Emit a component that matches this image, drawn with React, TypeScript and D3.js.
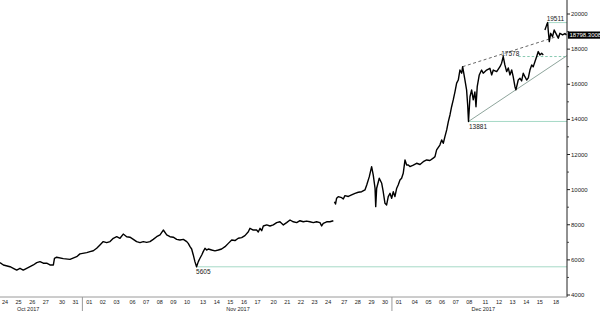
import React from "react";
import * as d3 from "d3";

const W = 600;
const H = 311;
const AXIS_X = 567;
const AXIS_Y = 297;
const FONT = "'Liberation Sans', Arial, sans-serif";

// trading-day axis: each weekday = 1 slot, a weekend = 0.18 slot, origin = 24 Oct 2017 00:00
const dayTicks = [
  "2017-10-24", "2017-10-25", "2017-10-26", "2017-10-27", "2017-10-30", "2017-10-31",
  "2017-11-01", "2017-11-02", "2017-11-03", "2017-11-06", "2017-11-07", "2017-11-08",
  "2017-11-09", "2017-11-10", "2017-11-13", "2017-11-14", "2017-11-15", "2017-11-16",
  "2017-11-17", "2017-11-20", "2017-11-21", "2017-11-22", "2017-11-23", "2017-11-24",
  "2017-11-27", "2017-11-28", "2017-11-29", "2017-11-30", "2017-12-01", "2017-12-04",
  "2017-12-05", "2017-12-06", "2017-12-07", "2017-12-08", "2017-12-11", "2017-12-12",
  "2017-12-13", "2017-12-14", "2017-12-15", "2017-12-18",
];
const monthBreaks = ["2017-11-01", "2017-12-01"];
const monthLabels: [string, number][] = [
  ["Oct 2017", 2.2],
  ["Nov 2017", 17.6],
  ["Dec 2017", 35.6],
];
const yMajor = [4000, 6000, 8000, 10000, 12000, 14000, 16000, 18000, 20000];
const yMinor = [5000, 7000, 9000, 11000, 13000, 15000, 17000, 19000];

// [slot, price]
const octNovSeries: [number, number][] = [
  [0.13, 5840], [0.38, 5710], [0.87, 5610], [1.11, 5520], [1.36, 5420], [1.6, 5520],
  [1.84, 5420], [2.09, 5520], [2.58, 5710], [2.83, 5840], [3.07, 5900], [3.31, 5810],
  [3.56, 5810], [3.8, 5710], [4.05, 5710], [4.13, 6090], [4.29, 6150], [4.78, 6070],
  [5.27, 6030], [5.76, 6180], [6.0, 6340], [6.5, 6410], [6.74, 6470], [6.98, 6520],
  [7.23, 6660], [7.47, 6850], [7.71, 7040], [7.96, 6980], [8.21, 7040], [8.45, 7230],
  [8.7, 7320], [8.94, 7230], [9.18, 7470], [9.43, 7320], [9.67, 7290], [9.92, 7170],
  [10.16, 7040], [10.41, 6980], [10.65, 7040], [10.9, 7000], [11.14, 7040], [11.38, 7170],
  [11.63, 7320], [11.88, 7420], [12.12, 7700], [12.37, 7420], [12.61, 7320], [12.85, 7290],
  [13.1, 7170], [13.34, 7130], [13.59, 7170], [13.84, 7040], [13.95, 6940], [14.08, 6750],
  [14.2, 6620], [14.32, 6280], [14.44, 5900], [14.56, 5605], [14.69, 5900], [14.81, 6090],
  [14.94, 6280], [15.05, 6470], [15.18, 6660], [15.3, 6560], [15.42, 6620], [15.67, 6560],
  [15.91, 6510], [16.16, 6560], [16.4, 6620], [16.65, 6750], [16.89, 6940], [17.14, 7130],
  [17.38, 7100], [17.62, 7230], [17.87, 7270], [18.11, 7380], [18.36, 7600], [18.48, 7800],
  [18.72, 7700], [18.97, 7700], [19.09, 7590], [19.22, 7800], [19.34, 7660], [19.46, 7930],
  [19.71, 7990], [19.95, 7930], [20.19, 7990], [20.44, 8120], [20.68, 8170], [20.93, 7990],
  [21.17, 8120], [21.42, 8270], [21.66, 8170], [21.91, 8120], [22.15, 8230], [22.39, 8170],
  [22.64, 8210], [22.88, 8170], [23.13, 8120], [23.37, 8170], [23.62, 8120], [23.74, 7930],
  [23.86, 8080], [24.11, 8170], [24.35, 8170], [24.6, 8230],
];
const novDecSeries: [number, number][] = [
  [24.68, 9310], [24.76, 9180], [24.84, 9510], [24.96, 9600], [25.21, 9540], [25.33, 9470],
  [25.45, 9660], [25.7, 9610], [25.94, 9700], [26.19, 9790], [26.43, 9850], [26.68, 9880],
  [26.92, 9980], [27.05, 10260], [27.24, 10740], [27.41, 11310], [27.53, 10830], [27.66, 10080],
  [27.71, 9030], [27.78, 10080], [27.97, 10650], [28.15, 10360], [28.26, 9880], [28.39, 9220],
  [28.51, 9130], [28.63, 9600], [28.76, 9790], [28.88, 9510], [29.0, 9880], [29.12, 9600],
  [29.25, 10080], [29.36, 10260], [29.49, 10550], [29.61, 10650], [29.73, 10930], [29.86, 11690],
  [29.98, 11400], [30.1, 11400], [30.22, 11310], [30.47, 11400], [30.71, 11500], [30.96, 11430],
  [31.2, 11590], [31.45, 11690], [31.69, 11660], [31.93, 11790], [32.06, 11880], [32.18, 12260],
  [32.42, 12540], [32.55, 12830], [32.67, 12640], [32.79, 13020], [32.92, 13400], [33.04, 13870],
  [33.16, 14250], [33.28, 14720], [33.4, 15110], [33.53, 15580], [33.65, 16060], [33.77, 16240],
  [33.89, 16810], [34.02, 16630], [34.09, 17000], [34.26, 16240], [34.38, 15680], [34.46, 14820],
  [34.52, 13881], [34.63, 15290], [34.75, 15680], [34.87, 15110], [34.99, 15560], [35.07, 14720],
  [35.16, 15860], [35.31, 16530], [35.48, 16810], [35.6, 16630], [35.85, 16810], [36.09, 16910],
  [36.22, 16530], [36.34, 16810], [36.59, 16720], [36.83, 17000], [36.95, 17200], [37.07, 17578],
  [37.19, 17100], [37.32, 16720], [37.44, 16930], [37.56, 16530], [37.69, 16810], [37.8, 16430],
  [37.93, 15860], [38.0, 15680], [38.17, 16240], [38.3, 16340], [38.42, 16190], [38.54, 16630],
  [38.66, 16430], [38.79, 16240], [38.91, 16360], [39.03, 16810], [39.16, 17100], [39.27, 16990],
  [39.4, 17290], [39.52, 17570], [39.64, 17860], [39.76, 17670], [39.89, 17760], [40.01, 17670],
];
const dec18Series: [number, number][] = [
  [40.13, 19090], [40.26, 19380], [40.33, 19511], [40.37, 19090], [40.45, 18430], [40.55, 18900],
  [40.69, 18710], [40.81, 19090], [40.99, 18810], [41.11, 18620], [41.23, 18900], [41.43, 18810],
  [41.6, 18890], [41.71, 18798],
];

const lastPrice = "18798.3008";
const lastValue = 18798.3008;
const lowNov: [number, number] = [14.56, 5605];
const lowDec: [number, number] = [34.52, 13881];
const highDec: [number, number] = [37.07, 17578];
const peakDec: [number, number] = [40.33, 19511];
const supportLine: [number, number][] = [[34.52, 13881], [41.75, 17630]];
const resistanceLine: [number, number][] = [[34.09, 17000], [41.75, 18900]];
const level17578Start = 38.17;
const X_END = 41.75;

function slotOf(iso: string): number {
  const start = new Date(2017, 9, 24);
  const [yy, mm, dd] = iso.split("-").map(Number);
  const target = new Date(yy, mm - 1, dd);
  let s = 0;
  const d = new Date(start);
  while (d < target) {
    const wd = d.getDay();
    s += wd === 0 || wd === 6 ? 0.09 : 1;
    d.setDate(d.getDate() + 1);
  }
  return s;
}

export default function App() {
  const x = d3.scaleLinear().domain([0, X_END]).range([-1.81, AXIS_X]);
  const y = d3.scaleLinear().domain([4000, 20000]).range([295, 14]);
  const line = d3
    .line<[number, number]>()
    .x((d) => x(d[0]))
    .y((d) => y(d[1]));

  const green = "#a6d9c6";
  const txt = "#1a1a1a";

  return (
    <svg
      width={W}
      height={H}
      style={{ position: "fixed", left: 0, top: 0, background: "#fff" }}
      fontFamily={FONT}
    >
      <rect width={W} height={H} fill="#fff" />
      {/* level lines */}
      <line x1={x(lowNov[0])} x2={AXIS_X} y1={y(lowNov[1])} y2={y(lowNov[1])} stroke={green} strokeWidth={1} />
      <line x1={x(lowDec[0])} x2={AXIS_X} y1={y(lowDec[1])} y2={y(lowDec[1])} stroke={green} strokeWidth={1} />
      <line
        x1={x(level17578Start)}
        x2={AXIS_X}
        y1={y(highDec[1])}
        y2={y(highDec[1])}
        stroke="#86c9b0"
        strokeWidth={1}
        strokeDasharray="2.5,2"
      />
      <line x1={x(peakDec[0])} x2={AXIS_X} y1={y(peakDec[1])} y2={y(peakDec[1])} stroke={green} strokeWidth={1} />
      <path d={line(supportLine) || ""} fill="none" stroke="#8ea59c" strokeWidth={1} />
      <path d={line(resistanceLine) || ""} fill="none" stroke="#555" strokeWidth={0.9} strokeDasharray="3,2.5" />

      {/* price */}
      {[octNovSeries, novDecSeries, dec18Series].map((s, i) => (
        <path key={i} d={line(s) || ""} fill="none" stroke="#000" strokeWidth={1.4} strokeLinejoin="round" />
      ))}

      {/* annotations */}
      <text x={x(lowNov[0]) - 0.5} y={y(lowNov[1]) + 7.2} fontSize={6.5} fill={txt}>5605</text>
      <text x={x(lowDec[0]) + 0.5} y={y(lowDec[1]) + 7.5} fontSize={6.5} fill={txt}>13881</text>
      <text x={x(highDec[0]) - 2} y={y(highDec[1]) - 0.5} fontSize={6.5} fill={txt}>17578</text>
      <text x={x(peakDec[0]) - 1} y={y(peakDec[1]) - 1.5} fontSize={6.5} fill={txt}>19511</text>

      {/* y axis */}
      <line x1={AXIS_X} x2={AXIS_X} y1={0} y2={AXIS_Y} stroke="#222" strokeWidth={1} />
      {yMajor.map((v) => (
        <g key={v}>
          <line x1={AXIS_X} x2={AXIS_X + 3} y1={y(v)} y2={y(v)} stroke="#222" strokeWidth={1} />
          <text x={AXIS_X + 4} y={y(v)} dy="0.35em" fontSize={6} fill={txt}>
            {v}
          </text>
        </g>
      ))}
      {yMinor.map((v) => (
        <line key={v} x1={AXIS_X} x2={AXIS_X + 2} y1={y(v)} y2={y(v)} stroke="#222" strokeWidth={0.8} />
      ))}
      <rect x={AXIS_X + 1} y={y(lastValue) - 3.6} width={W - AXIS_X} height={7.2} fill="#000" />
      <text x={AXIS_X + 2.5} y={y(lastValue)} dy="0.35em" fontSize={6} fill="#fff">
        {lastPrice}
      </text>

      {/* x axis */}
      <line x1={0} x2={AXIS_X} y1={AXIS_Y} y2={AXIS_Y} stroke="#9a9a9a" strokeWidth={1} />
      {monthBreaks.map((d) => (
        <line key={d} x1={x(slotOf(d))} x2={x(slotOf(d))} y1={AXIS_Y} y2={H} stroke="#9a9a9a" strokeWidth={1} />
      ))}
      {dayTicks.map((d) => (
        <text key={d} x={x(slotOf(d) + 0.5)} y={303.5} fontSize={5.5} textAnchor="middle" fill={txt}>
          {d.slice(8)}
        </text>
      ))}
      {monthLabels.map(([t, s]) => (
        <text key={t} x={x(s)} y={310.5} fontSize={5.5} textAnchor="middle" fill={txt}>
          {t}
        </text>
      ))}
    </svg>
  );
}
